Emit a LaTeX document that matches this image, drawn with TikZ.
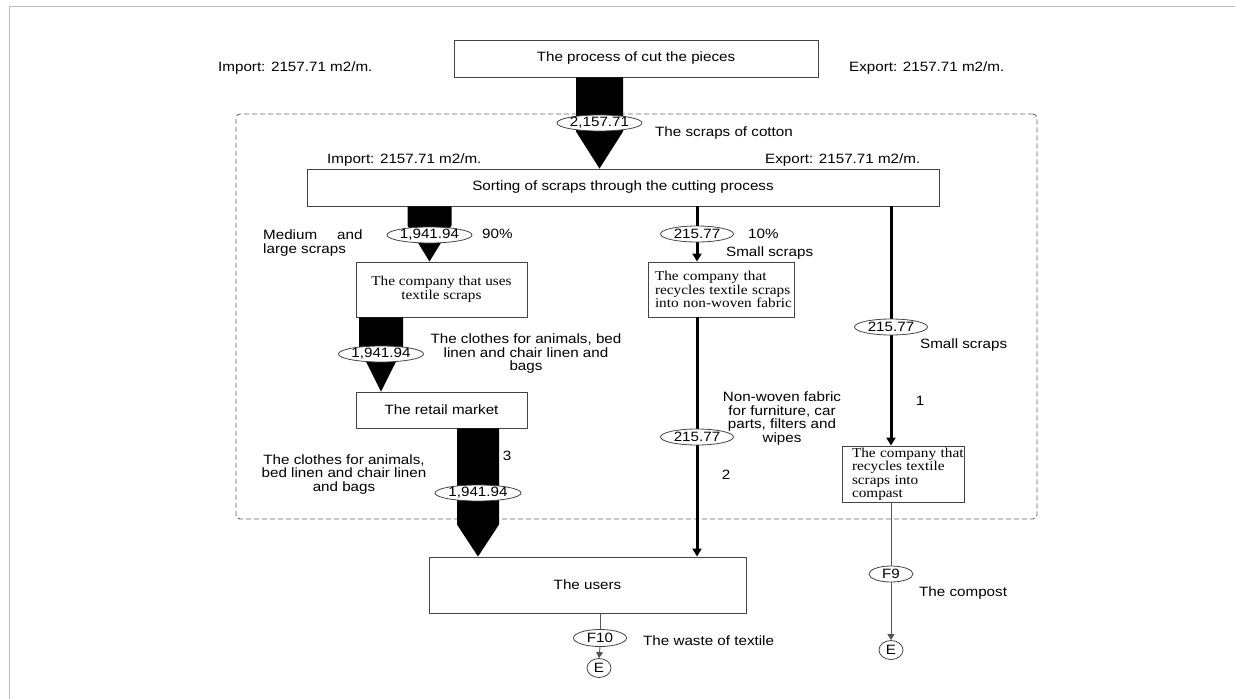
\documentclass[tikz,border=0pt]{standalone}
\usepackage{fontspec}
\setmainfont{Liberation Sans}[FakeStretch=1.125]
\newfontfamily\tnr{Liberation Serif}[FakeStretch=1.13]
\usetikzlibrary{shapes.geometric,arrows.meta,calc}
\definecolor{boxc}{HTML}{444444}
\definecolor{dashc}{HTML}{666666}
\definecolor{thinc}{HTML}{555555}
\definecolor{framec}{HTML}{BBBBBB}
\newcommand{\fatarr}[4]{\fill[black] ($(#1)+(-#3,0)$) -- ($(#1)+(#3,0)$) -- ($(#2)+(#3,-#4)$) -- (#2) -- ($(#2)+(-#3,-#4)$) -- cycle;}
\begin{document}
\begin{tikzpicture}[x=1pt,y=-1pt,
  every node/.style={font=\fontsize{13.5}{13.5}\selectfont, inner sep=0pt},
  box/.style={draw=boxc, line width=0.9pt, fill=white},
  serif/.style={font=\tnr\fontsize{13.5}{13.5}\selectfont},
  oval/.style={ellipse, draw=boxc, line width=0.8pt, fill=white, minimum height=16pt},
  lbl/.style={anchor=west},
  mlbl/.style={align=center},
  thinln/.style={draw=thinc, line width=0.9pt},
  medln/.style={line width=3pt},
  smalltip/.style={-{Triangle[length=8pt,width=9pt]}},
  thintip/.style={-{Triangle[length=6pt,width=7pt]}}
]
\useasboundingbox (0,0) rectangle (1235,699);
% outer frame
\draw[framec, line width=1.5pt] (9.5,699) -- (9.5,6.5) -- (1235,6.5);
% system boundary
\node[draw=dashc, dash pattern=on 5pt off 3pt, line width=0.9pt, rounded corners=4pt,
      minimum width=801pt, minimum height=405pt] (sys) at (636.5,316.5) {};

% boxes
\node[box, minimum width=364pt, minimum height=37pt] (b1) at (636,58.5) {The process of cut the pieces};
\node[box, minimum width=632pt, minimum height=37pt] (b2) at (623,187.5) {Sorting of scraps through the cutting process};
\node[box, serif, minimum width=171pt, minimum height=55pt, align=center] (b3) at (441.5,289.5) {The company that uses\\textile scraps};
\node[box, minimum width=171pt, minimum height=36pt] (rm) at (441.5,410) {The retail market};
\node[box, serif, minimum width=146pt, minimum height=55pt, text width=132pt, align=left] (nw) at (721,289.5) {\mbox{The company that}\\\mbox{recycles textile scraps}\\\mbox{into non-woven fabric}};
\node[box, serif, minimum width=122pt, minimum height=56pt, text width=102pt, align=left] (cp) at (903,474) {\mbox{The company that}\\\mbox{recycles textile}\\\mbox{scraps into}\\\mbox{compast}};
\node[box, minimum width=317pt, minimum height=56pt] (us) at (587.5,585) {The users};

% flow value positions
\coordinate (e1) at (599.5,123);
\coordinate (e2) at (429.5,235);
\coordinate (e3) at (381,354);
\coordinate (e4) at (478,493);
\coordinate (m1) at (697,234);
\coordinate (m2) at (697,437);
\coordinate (r1) at (891,327);
\coordinate (f9c) at (891,574);
\coordinate (f10c) at (600,638);
\coordinate (E9c) at (891,650);
\coordinate (E10c) at (599,668);

% thick arrows
\coordinate (s1) at (b1.south -| e1); \coordinate (t1) at (b2.north -| e1);
\coordinate (s2) at (b2.south -| e2); \coordinate (t2) at (b3.north -| e2);
\coordinate (s3) at (b3.south -| e3); \coordinate (t3) at (rm.north -| e3);
\coordinate (s4) at (rm.south -| e4); \coordinate (t4) at (us.north -| e4);
\fatarr{s1}{t1}{23.5}{37}
\fatarr{s2}{t2}{22}{36}
\fatarr{s3}{t3}{22}{44}
\fatarr{s4}{t4}{21}{32}

% medium arrows
\draw[medln, smalltip] (b2.south -| m1) -- (nw.north -| m1);
\draw[medln, smalltip] (nw.south -| m1) -- (us.north -| m1);
\draw[medln, smalltip] (b2.south -| r1) -- (cp.north -| r1);

% value ovals
\node[oval, minimum width=85pt] (v1) at (e1) {2,157.71};
\node[oval, minimum width=85pt] (v2) at (e2) {1,941.94};
\node[oval, minimum width=85pt] (v3) at (e3) {1,941.94};
\node[oval, minimum width=86pt] (v4) at (e4) {1,941.94};
\node[oval, minimum width=73pt] (v5) at (m1) {215.77};
\node[oval, minimum width=73pt] (v6) at (m2) {215.77};
\node[oval, minimum width=73pt] (v7) at (r1) {215.77};
\node[oval, minimum width=44pt] (f9) at (f9c) {F9};
\node[oval, minimum width=53pt, minimum height=17pt] (f10) at (f10c) {F10};
\node[oval, minimum width=24pt, minimum height=19pt] (E9) at (E9c) {E};
\node[oval, minimum width=24pt, minimum height=19pt] (E10) at (E10c) {E};

% thin outflows
\draw[thinln] (cp.south -| f9) -- (f9.north);
\draw[thinln, thintip] (f9.south) -- (E9.north);
\draw[thinln] (us.south -| f10) -- (f10.north);
\draw[thinln, thintip] (f10.south) -- (E10.north);

% labels
\node[lbl] (imp1) at (218,68) {Import: 2157.71 m2/m.};
\node[lbl] (exp1) at (849,68) {Export: 2157.71 m2/m.};
\node[lbl] (cot) at (655,133) {The scraps of cotton};
\node[lbl] (imp2) at (327,160) {Import: 2157.71 m2/m.};
\node[lbl] (exp2) at (765,160) {Export: 2157.71 m2/m.};
\node[lbl, align=left] (med) at (263,243) {Medium\hspace{20pt}and\\large scraps};
\node[lbl] (p90) at (482,234) {90\%};
\node[lbl] (p10) at (748,234) {10\%};
\node[lbl] (ss1) at (726,253) {Small scraps};
\node[mlbl] (cl1) at (526,354) {The clothes for animals, bed\\linen and chair linen and\\bags};
\node[lbl] (ss2) at (920,345) {Small scraps};
\node (n1) at (920,401) {1};
\node[mlbl] (nwf) at (782,418.5) {Non-woven fabric\\for furniture, car\\parts, filters and\\wipes};
\node (n2) at (726,475) {2};
\node (n3) at (507,456) {3};
\node[mlbl] (cl2) at (344,474.5) {The clothes for animals,\\bed linen and chair linen\\and bags};
\node[lbl] (wst) at (643,641) {The waste of textile};
\node[lbl] (cmp) at (919,593) {The compost};
\end{tikzpicture}
\end{document}
